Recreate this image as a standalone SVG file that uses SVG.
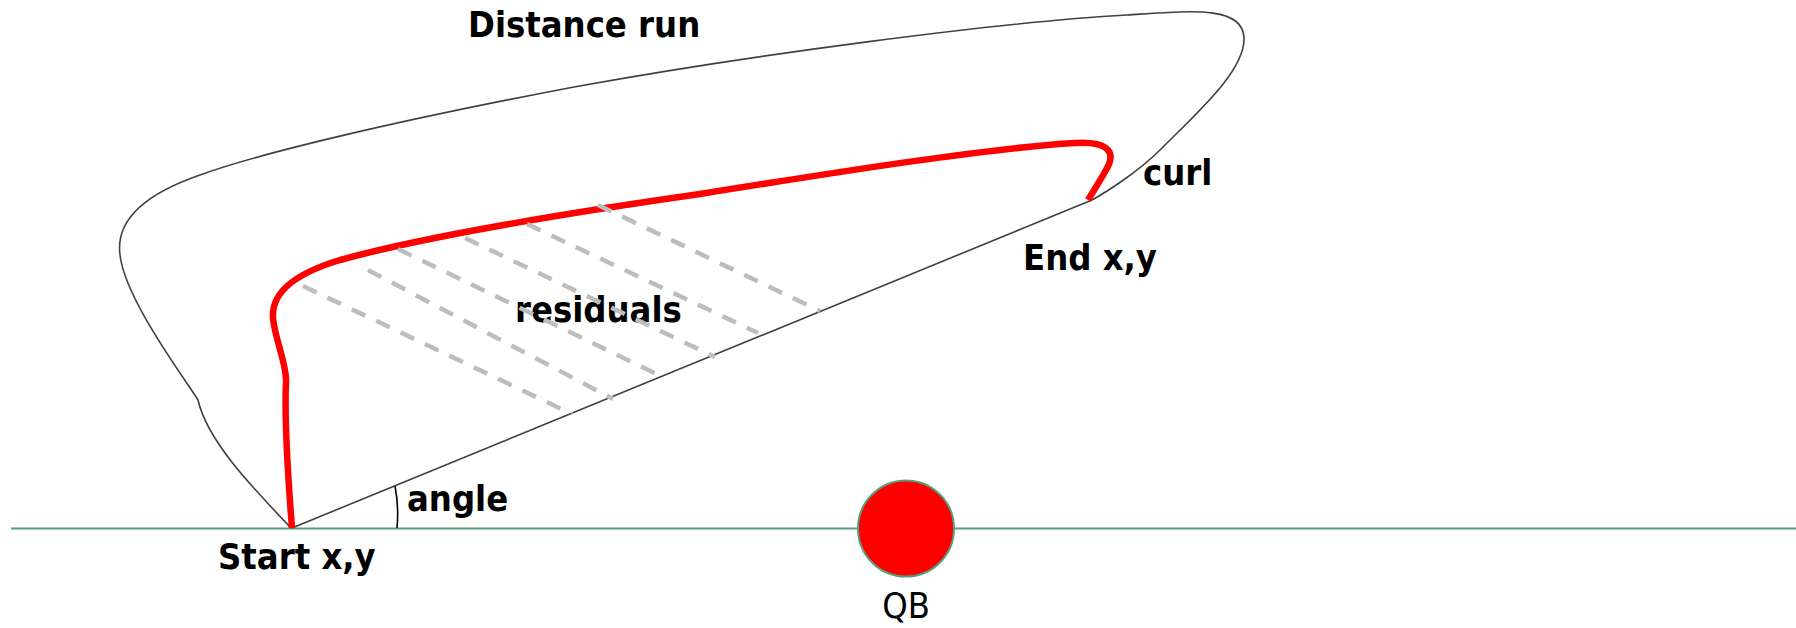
<svg xmlns="http://www.w3.org/2000/svg" width="1796" height="628" viewBox="0 0 1796 628">
<style>
.t{font-family:"DejaVu Sans Condensed","DejaVu Sans",sans-serif;font-stretch:condensed;font-size:36px;fill:#000}
.b{font-weight:bold}
.thin{fill:none;stroke:#404040;stroke-width:1.6}
.res{fill:none;stroke:#bdbdbd;stroke-width:4.5;stroke-dasharray:15 12}
</style>
<rect width="1796" height="628" fill="#fff"/>
<g id="ground">
<line x1="11" y1="528.5" x2="1796" y2="528.5" stroke="#55a078" stroke-width="2.2"/>
</g>
<g id="connectors">
<path id="outer-run" class="thin" d="M291 528 C250 485 207 440 198 400 C188 383 125 300 120 255 C115 218 148 193 200 175 C260 153 400 120 574 87 C750 55 1000 22 1127 15 C1190 11 1243 5 1244 38 C1245 70 1200 110 1160 150 C1140 170 1110 190 1092 200"/>
<line id="chord" class="thin" x1="292" y1="528" x2="1092" y2="200"/>
<path id="angle-arc" d="M395 486 Q399 507 397 528" fill="none" stroke="#000" stroke-width="1.6"/>
<path id="actual-run" fill="none" stroke="#ff0000" stroke-width="6.5" stroke-linecap="butt" d="M292 528 C289 490 284 425 286 382 C287 364 275 340 273 318 C271 290 300 272 340 260 C420 238 560 214 700 194 C850 170 990 148 1075 143 C1105 141 1118 150 1106 170 C1100 181 1094 190 1088 200"/>
</g>
<g id="labels">
<text class="t b" x="468" y="37">Distance run</text>
<text class="t b" x="1143" y="185">curl</text>
<text class="t b" x="1023" y="270">End x,y</text>
<text class="t b" x="515" y="322">residuals</text>
<text class="t b" x="407" y="511">angle</text>
<text class="t b" x="218" y="569">Start x,y</text>
</g>
<g id="residuals">
<line class="res" x1="303" y1="286" x2="572" y2="414"/>
<line class="res" x1="368" y1="270" x2="613" y2="399"/>
<line class="res" x1="398" y1="249" x2="663" y2="377"/>
<line class="res" x1="465" y1="238" x2="715" y2="357"/>
<line class="res" x1="527" y1="224" x2="758" y2="333"/>
<line class="res" x1="598" y1="205" x2="820" y2="311"/>
</g>
<g id="qb">
<circle cx="906" cy="528.5" r="48" fill="#ff0000" stroke="#55a078" stroke-width="2"/>
<text class="t" x="906" y="618" text-anchor="middle">QB</text>
</g>
</svg>
